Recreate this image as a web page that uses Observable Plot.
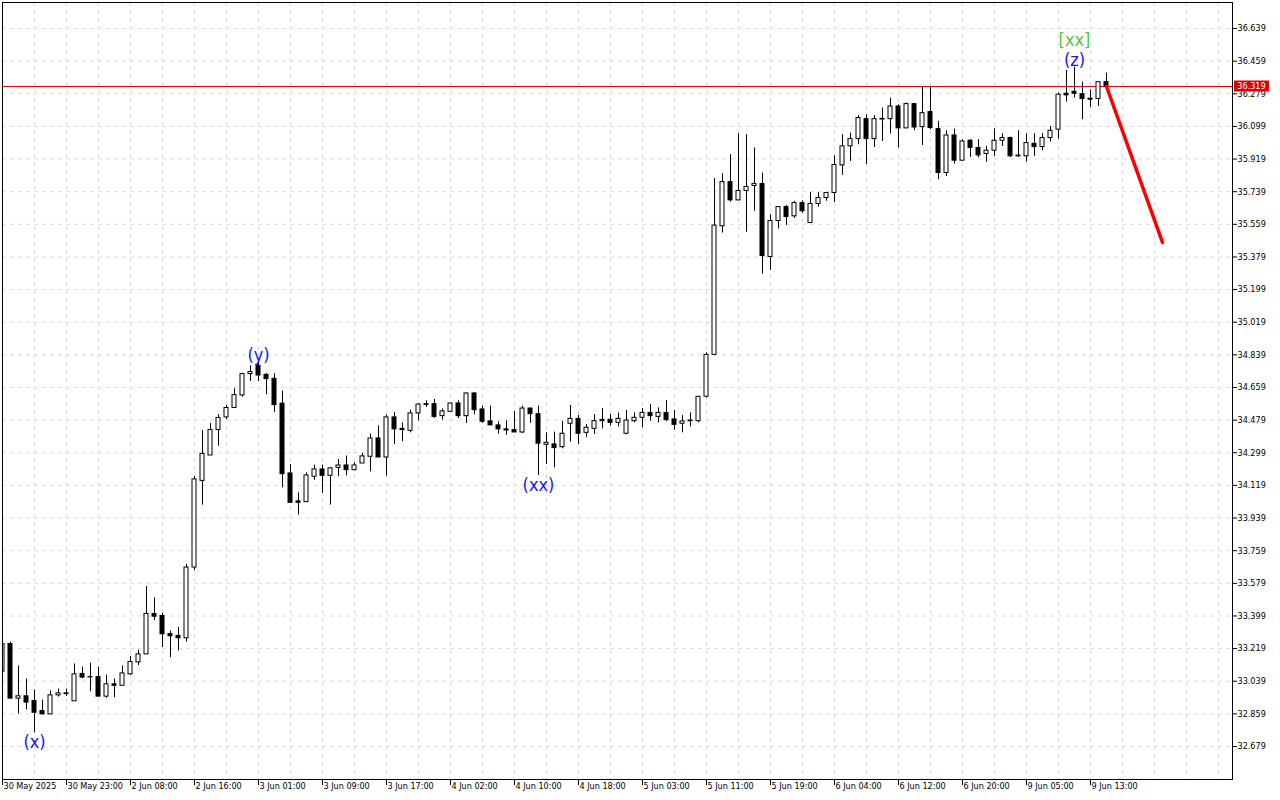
<!DOCTYPE html>
<html>
<head>
<meta charset="utf-8">
<script src="https://cdn.jsdelivr.net/npm/d3@7"></script>
<script src="https://cdn.jsdelivr.net/npm/@observablehq/plot@0.6"></script>
<style>
html, body { margin: 0; padding: 0; background: #ffffff; overflow: hidden; }
#chart svg { display: block; }
</style>
</head>
<body>
<div id="chart"></div>
<script>
// ---- Hourly candles (bar index 0 = 30 May 2025 15:00) ----
const openP = [
33.092,33.244,32.943,32.956,32.930,32.875,32.856,32.961,32.972,32.928,
33.079,33.062,33.062,32.954,33.022,33.014,33.077,33.143,33.187,33.410,
33.399,33.299,33.289,33.276,33.666,34.144,34.284,34.425,34.494,34.546,
34.615,34.733,34.779,34.729,34.707,34.570,34.185,34.031,34.027,34.167,
34.207,34.172,34.216,34.229,34.203,34.240,34.277,34.378,34.273,34.494,
34.431,34.420,34.516,34.567,34.567,34.501,34.525,34.571,34.501,34.626,
34.538,34.472,34.450,34.428,34.424,34.411,34.543,34.512,34.343,34.345,
34.330,34.459,34.486,34.409,34.431,34.473,34.481,34.464,34.404,34.473,
34.492,34.519,34.497,34.519,34.483,34.459,34.477,34.473,34.608,34.839,
35.548,35.792,35.691,35.743,35.770,35.781,35.379,35.577,35.654,35.603,
35.676,35.566,35.671,35.704,35.732,35.884,35.989,36.029,36.139,36.029,
36.141,36.139,36.209,36.088,36.222,36.095,36.178,36.084,35.842,36.049,
35.910,36.020,35.980,35.947,35.965,36.020,36.035,35.938,35.934,36.003,
35.985,36.035,36.081,36.279,36.290,36.277,36.252,36.250,36.343
];
const highP = [
33.260,33.255,33.123,33.051,32.991,32.935,32.985,32.996,32.996,33.134,
33.117,33.138,33.117,33.073,33.051,33.123,33.176,33.211,33.561,33.498,
33.413,33.316,33.336,33.683,34.168,34.421,34.460,34.509,34.559,34.652,
34.738,34.779,34.800,34.735,34.735,34.639,34.234,34.078,34.188,34.231,
34.231,34.218,34.262,34.281,34.244,34.295,34.402,34.448,34.508,34.521,
34.464,34.534,34.570,34.586,34.593,34.541,34.573,34.586,34.630,34.631,
34.556,34.556,34.470,34.475,34.527,34.556,34.545,34.556,34.409,34.413,
34.472,34.560,34.505,34.455,34.510,34.543,34.510,34.519,34.532,34.519,
34.543,34.565,34.547,34.587,34.532,34.505,34.519,34.610,34.850,35.811,
35.838,35.943,36.059,36.053,35.980,35.842,35.612,35.656,35.662,35.686,
35.689,35.735,35.735,35.733,35.937,36.053,36.062,36.158,36.163,36.158,
36.200,36.255,36.218,36.228,36.222,36.319,36.319,36.127,36.075,36.084,
36.025,36.026,36.026,35.989,36.086,36.059,36.040,36.075,36.057,36.059,
36.059,36.099,36.283,36.408,36.426,36.343,36.301,36.343,36.393
];
const lowP = [
33.080,32.943,32.858,32.880,32.755,32.856,32.856,32.952,32.955,32.928,
33.053,32.981,32.954,32.945,32.948,33.014,33.071,33.125,33.187,33.373,
33.224,33.169,33.206,33.255,33.650,34.010,34.284,34.335,34.482,34.544,
34.606,34.692,34.692,34.619,34.522,34.106,34.023,33.955,34.027,34.148,
34.075,34.011,34.167,34.172,34.200,34.240,34.194,34.273,34.170,34.345,
34.360,34.409,34.475,34.549,34.488,34.479,34.521,34.488,34.461,34.508,
34.461,34.450,34.402,34.396,34.411,34.405,34.461,34.174,34.235,34.216,
34.321,34.358,34.345,34.382,34.400,34.431,34.446,34.442,34.398,34.464,
34.437,34.473,34.464,34.470,34.424,34.409,34.442,34.464,34.600,34.835,
35.511,35.682,35.688,35.515,35.631,35.285,35.305,35.533,35.553,35.592,
35.621,35.566,35.654,35.686,35.680,35.829,35.906,35.998,35.888,35.983,
36.016,36.057,35.980,36.088,36.075,35.994,36.081,35.805,35.823,35.891,
35.906,35.928,35.925,35.901,35.934,35.989,35.928,35.928,35.902,35.934,
35.965,36.013,36.029,36.233,36.255,36.136,36.204,36.209,36.319
];
const closeP = [
33.244,32.943,32.956,32.921,32.865,32.856,32.961,32.972,32.968,33.077,
33.059,33.060,32.954,33.022,33.014,33.082,33.145,33.187,33.410,33.395,
33.298,33.287,33.276,33.666,34.152,34.293,34.425,34.491,34.546,34.617,
34.733,34.744,34.725,34.705,34.562,34.181,34.023,34.023,34.174,34.207,
34.172,34.213,34.229,34.203,34.229,34.279,34.378,34.273,34.494,34.428,
34.424,34.516,34.565,34.563,34.497,34.527,34.571,34.501,34.626,34.534,
34.470,34.450,34.428,34.422,34.411,34.543,34.512,34.349,34.354,34.325,
34.404,34.486,34.404,34.437,34.473,34.480,34.464,34.486,34.477,34.492,
34.519,34.501,34.519,34.479,34.453,34.472,34.473,34.608,34.839,35.552,
35.792,35.691,35.743,35.765,35.781,35.384,35.577,35.654,35.599,35.676,
35.631,35.671,35.704,35.732,35.886,35.989,36.029,36.145,36.029,36.139,
36.137,36.209,36.088,36.222,36.093,36.172,36.090,35.842,36.049,35.910,
36.016,35.980,35.939,35.965,36.020,36.035,35.934,35.934,36.007,35.985,
36.035,36.075,36.274,36.270,36.279,36.250,36.246,36.343,36.319
];

// ---- Time axis labels and the bar index they sit on ----
const timeLabels = ["30 May 2025","30 May 23:00","2 Jun 08:00","2 Jun 16:00","3 Jun 01:00","3 Jun 09:00",
  "3 Jun 17:00","4 Jun 02:00","4 Jun 10:00","4 Jun 18:00","5 Jun 03:00","5 Jun 11:00",
  "5 Jun 19:00","6 Jun 04:00","6 Jun 12:00","6 Jun 20:00","9 Jun 05:00","9 Jun 13:00"];
const timeLabelBars = [0,8,16,24,32,40,48,56,64,72,80,88,96,104,112,120,128,136];

// ---- Price axis tick labels ----
const priceTicks = [36.639,36.459,36.279,36.099,35.919,35.739,35.559,35.379,35.199,35.019,34.839,34.659,
  34.479,34.299,34.119,33.939,33.759,33.579,33.399,33.219,33.039,32.859,32.679];

// ---- Wave labels ----
const waveBelow = [{bar: 4, text: "(x)"}, {bar: 67, text: "(xx)"}];
const waveAbove = [{bar: 32, text: "(y)"}, {bar: 134, text: "(z)"}];
const waveHigher = [{bar: 134, text: "[xx]"}];

// ---- Current price and forecast ----
const lastPrice = 36.319;
const forecastBars = [138, 145];
const forecastPrices = [36.319, 35.459];

// ---- build ----
const candles = openP.map((o, i) => ({bar: i, open: o, high: highP[i], low: lowP[i], close: closeP[i]}));
const forecast = forecastBars.map((b, k) => ({bar: b, price: forecastPrices[k]}));
const fmt = d => d.toFixed(3);
const xDomain = [0, 153.75];
const yDomain = [32.497, 36.7824];
const gridBars = d3.range(0, 154, 4);
const axisFont = '"DejaVu Sans Condensed", "DejaVu Sans", sans-serif';
const labelFont = '"DejaVu Sans", "Noto Sans", sans-serif';

const chart = Plot.plot({
  width: 1280,
  height: 800,
  marginLeft: 2,
  marginRight: 48,
  marginTop: 2,
  marginBottom: 21,
  style: {background: "#ffffff", color: "#000000", fontFamily: axisFont, fontSize: "9px", fontStretch: "condensed", overflow: "visible"},
  x: {domain: xDomain, axis: "bottom", ticks: timeLabelBars, tickFormat: () => "", tickSize: 6, label: null},
  y: {domain: yDomain, axis: "right", ticks: priceTicks, tickFormat: fmt, tickSize: 4, tickPadding: 1, label: null},
  marks: [
    Plot.ruleY(priceTicks, {stroke: "#dcdcdc", strokeDasharray: "4,4"}),
    Plot.ruleX(gridBars, {stroke: "#dcdcdc", strokeDasharray: "4,4"}),
    Plot.ruleY([lastPrice], {stroke: "#e00000", strokeWidth: 1}),
    Plot.ruleX(candles, {x: "bar", y1: "low", y2: "high", stroke: "#000000", strokeWidth: 1, clip: true}),
    Plot.rect(candles, {
      x1: d => d.bar - 0.25, x2: d => d.bar + 0.25,
      y1: "open", y2: "close",
      fill: d => d.close >= d.open ? "#ffffff" : "#000000",
      stroke: "#000000", strokeWidth: 1, clip: true
    }),
    Plot.line(forecast, {x: "bar", y: "price", stroke: "#ff0000", strokeWidth: 3.5}),
    Plot.text(waveBelow, {x: "bar", y: d => lowP[d.bar], text: "text", dy: 10, fill: "#1414ff", fontSize: 18, fontFamily: labelFont}),
    Plot.text(waveAbove, {x: "bar", y: d => highP[d.bar], text: "text", dy: -7, fill: "#1414ff", fontSize: 18, fontFamily: labelFont}),
    Plot.text(waveHigher, {x: "bar", y: d => highP[d.bar], text: "text", dy: -27, fill: "#55c43a", fontSize: 18, fontFamily: labelFont}),
    Plot.text(timeLabelBars, {x: d => d, text: (d, i) => timeLabels[i], frameAnchor: "bottom", dy: 9, dx: 1, textAnchor: "start", fill: "#000000"}),
    Plot.frame({stroke: "#000000"})
  ]
});

document.getElementById("chart").appendChild(chart);
const svg = d3.select(chart);

// current price tag on the price axis, positioned through the plot's y scale
const ys = chart.scale("y");
const yPx = ys.apply ? ys.apply(lastPrice) : d3.scaleLinear(ys.domain, ys.range)(lastPrice);
const tag = svg.append("g");
tag.append("rect").attr("x", 1234).attr("y", yPx - 5.5).attr("width", 35).attr("height", 11).attr("fill", "#e00000");
tag.append("text").attr("x", 1251.5).attr("y", yPx).attr("dy", "0.35em").attr("text-anchor", "middle")
  .attr("fill", "#ffffff").style("font-family", axisFont).style("font-size", "9px").style("font-stretch", "condensed")
  .text(fmt(lastPrice));
</script>
</body>
</html>
